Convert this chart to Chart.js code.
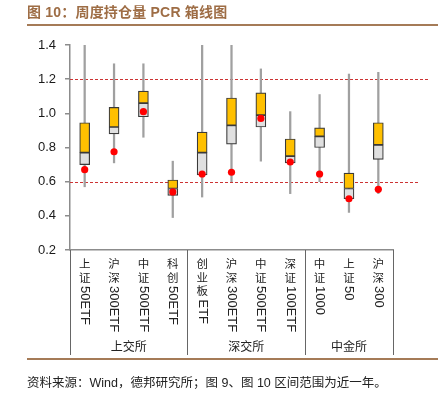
<!DOCTYPE html>
<html>
<head>
<meta charset="utf-8">
<script src="https://cdn.jsdelivr.net/npm/chart.js@4/dist/chart.umd.min.js"></script>
<style>
  body { margin: 0; background: #fff; }
  #wrap { position: relative; width: 443px; height: 395px; }
  #title { position: absolute; left: 27px; top: 3px; font: bold 14px "Liberation Sans", "Noto Sans CJK SC", sans-serif; line-height: 18px; color: #9e6d45; white-space: nowrap; letter-spacing: 0.2px; }
  .rule { position: absolute; left: 27px; width: 411px; height: 2px; background: #a57b57; }
  #source { position: absolute; left: 27px; top: 376px; font: 12.5px "Liberation Sans", "Noto Sans CJK SC", sans-serif; line-height: 14px; color: #222; white-space: nowrap; }
  #chartBox { position: absolute; left: 0; top: 0; width: 443px; height: 395px; }
</style>
</head>
<body>
<div id="wrap">
  <div id="chartBox"><canvas id="pcrChart"></canvas></div>
  <div id="title">图 10：周度持仓量 PCR 箱线图</div>
  <div class="rule" style="top:24px"></div>
  <div class="rule" style="top:358px"></div>
  <div id="source">资料来源：Wind，德邦研究所；图 9、图 10 区间范围为近一年。</div>
</div>
<script>
// box plot of weekly PCR
const categories = ['上证50ETF', '沪深300ETF', '中证500ETF', '科创50ETF', '创业板ETF', '沪深300ETF', '中证500ETF', '深证100ETF', '中证1000', '上证50', '沪深300'];
const groupNames = ['上交所', '深交所', '中金所'];
const groupSizes = [4, 4, 3];

const minVals    = [0.57, 0.71, 0.86, 0.39, 0.51, 0.60, 0.72, 0.53, 0.60, 0.42, 0.53];
const q1Vals     = [0.70, 0.88, 0.98, 0.52, 0.64, 0.82, 0.92, 0.71, 0.80, 0.50, 0.73];
const medianVals = [0.77, 0.92, 1.06, 0.56, 0.77, 0.93, 0.99, 0.75, 0.865, 0.56, 0.815];
const q3Vals     = [0.945, 1.035, 1.13, 0.61, 0.89, 1.09, 1.12, 0.85, 0.915, 0.65, 0.945];
const maxVals    = [1.40, 1.29, 1.29, 0.72, 1.40, 1.40, 1.26, 1.01, 1.11, 1.23, 1.24];
const currentVals = [0.67, 0.775, 1.01, 0.54, 0.645, 0.655, 0.97, 0.715, 0.645, 0.50, 0.555];

const yTicks = [0.2, 0.4, 0.6, 0.8, 1.0, 1.2, 1.4];
const refLines = [1.2, 0.6];

const pair = (a, b) => a.map((v, i) => [v, b[i]]);

// reference lines + bottom category / group labels
const decor = {
  id: 'decor',
  beforeDatasetsDraw(chart) {
    const ctx = chart.ctx, y = chart.scales.y, left = chart.chartArea.left;
    const ends = [428, 420];
    ctx.save();
    ctx.strokeStyle = '#cc3333';
    ctx.lineWidth = 1;
    ctx.setLineDash([3, 2]);
    refLines.forEach((v, i) => {
      const py = Math.round(y.getPixelForValue(v)) + 0.5;
      ctx.beginPath();
      ctx.moveTo(left, py);
      ctx.lineTo(ends[i], py);
      ctx.stroke();
    });
    ctx.restore();
  },
  afterDraw(chart) {
    const ctx = chart.ctx, x = chart.scales.x;
    const {left, right, bottom} = chart.chartArea;
    const step = (right - left) / categories.length;
    ctx.save();
    // separators
    ctx.strokeStyle = '#666';
    ctx.lineWidth = 1;
    let idx = 0;
    const seps = [left];
    groupSizes.forEach(n => { idx += n; seps.push(left + idx * step); });
    seps.forEach(sx => {
      const px = Math.round(sx) + 0.5;
      ctx.beginPath();
      ctx.moveTo(px, bottom);
      ctx.lineTo(px, 355);
      ctx.stroke();
    });
    // category labels: CJK upright, latin rotated
    ctx.fillStyle = '#222';
    categories.forEach((c, i) => {
      const cx = x.getPixelForValue(i);
      const m = c.match(/^([\u4e00-\u9fff]+)(.*)$/);
      const han = m[1], lat = m[2];
      let ty = 259;
      ctx.font = '11.5px "Noto Sans CJK SC"';
      ctx.textAlign = 'center';
      ctx.textBaseline = 'top';
      for (const ch of han) { ctx.fillText(ch, cx, ty - 1); ty += 13.5; }
      ctx.save();
      ctx.translate(cx, ty);
      ctx.rotate(Math.PI / 2);
      ctx.font = '13px "Liberation Sans", Arial';
      ctx.textAlign = 'left';
      ctx.textBaseline = 'middle';
      ctx.fillText(lat, 0, 0);
      ctx.restore();
    });
    // group labels
    ctx.font = '12px "Noto Sans CJK SC"';
    ctx.textAlign = 'center';
    ctx.textBaseline = 'middle';
    groupNames.forEach((g, i) => {
      ctx.fillText(g, (seps[i] + seps[i + 1]) / 2, 346);
    });
    ctx.restore();
  }
};

new Chart(document.getElementById('pcrChart'), {
  type: 'bar',
  data: {
    labels: categories,
    datasets: [
      { type: 'line', label: '当前', data: currentVals, showLine: false, pointRadius: 3.6, pointBackgroundColor: '#ff0000', pointBorderWidth: 0, order: 0 },
      { label: 'upper', data: pair(medianVals, q3Vals), backgroundColor: '#ffc000', borderColor: '#3a3a3a', borderWidth: 1.2, borderSkipped: false, barThickness: 10, grouped: false, order: 1 },
      { label: 'lower', data: pair(q1Vals, medianVals), backgroundColor: '#e0e0e0', borderColor: '#3a3a3a', borderWidth: 1.2, borderSkipped: false, barThickness: 10, grouped: false, order: 2 },
      { label: 'whisker', data: pair(minVals, maxVals), backgroundColor: '#a0a0a0', borderWidth: 0, barThickness: 1.6, grouped: false, order: 3 }
    ]
  },
  options: {
    responsive: true,
    maintainAspectRatio: false,
    animation: false,
    layout: { padding: { left: 0, right: 50, top: 45, bottom: 0 } },
    plugins: { legend: { display: false }, tooltip: { enabled: false } },
    scales: {
      x: {
        offset: true,
        grid: { display: false },
        border: { display: true, color: '#8c8c8c', width: 1.5 },
        ticks: { display: false },
        afterFit(s) { s.height = 145; }
      },
      y: {
        min: yTicks[0],
        max: yTicks[yTicks.length - 1],
        afterBuildTicks(s) { s.ticks = yTicks.map(v => ({ value: v })); },
        ticks: { padding: 9, color: '#1a1a1a', font: { size: 13, family: '"Liberation Sans", Arial' }, callback: v => v.toFixed(1) },
        grid: { drawOnChartArea: false, drawTicks: true, tickLength: 5, color: '#8c8c8c', lineWidth: 1.5 },
        border: { color: '#8c8c8c', width: 1.5 },
        afterFit(s) { s.width = 70; }
      }
    }
  },
  plugins: [decor]
});
</script>
</body>
</html>
